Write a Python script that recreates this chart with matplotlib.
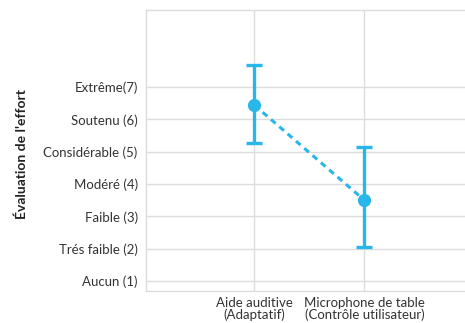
import matplotlib.pyplot as plt

# data
conditions = ["Aide auditive\n(Adaptatif)", "Microphone de table\n(Contrôle utilisateur)"]
means = [6.44, 3.50]
upper = [7.68, 5.14]
lower = [5.26, 2.06]
levels = [1, 2, 3, 4, 5, 6, 7]
level_labels = ["Aucun (1)", "Trés faible (2)", "Faible (3)", "Modéré (4)",
                "Considérable (5)", "Soutenu (6)", "Extrême(7)"]

plt.rcParams['font.family'] = ['Lato', 'DejaVu Sans']
blue = '#29b6e9'
grey_text = '#333333'

fig = plt.figure(figsize=(4.65, 3.23), dpi=100)
# axes run a bit past the right edge of the figure, as in the reference
ax = fig.add_axes([146 / 465, 1 - 291 / 323, 330 / 465, 281 / 323])

x = [1, 2]
err = [[m - lo for m, lo in zip(means, lower)], [u - m for m, u in zip(means, upper)]]

# dashed link between the means
ax.plot(x, means, linestyle=(0, (2, 1.6)), color=blue, linewidth=2.2, zorder=3)
ax.errorbar(x, means, yerr=err, fmt='o', color=blue, markersize=8.5,
            elinewidth=2.4, capsize=6, capthick=2.4, zorder=4)

ax.set_xlim(0.015, 3.015)
ax.set_ylim(0.69, 9.38)
ax.set_xticks(x)
ax.set_xticklabels(conditions, fontsize=9.5, color=grey_text, linespacing=0.95)
ax.set_yticks(levels)
ax.set_yticklabels(level_labels, fontsize=9.5, color=grey_text)
ax.tick_params(length=0, pad=6)
ax.tick_params(axis='x', pad=4)

ax.grid(True, color='#dcdcdc', linewidth=1)
ax.set_axisbelow(True)
for side in ['left', 'top', 'bottom']:
    ax.spines[side].set_color('#dcdcdc')
    ax.spines[side].set_linewidth(1)
ax.spines['right'].set_visible(False)

fig.text(22 / 465, 1 - 154 / 323, "Évaluation de l'effort", rotation=90,
         ha='center', va='center', fontsize=10, fontweight='bold', color='#222222')

fig.savefig('out.png', dpi=100)
